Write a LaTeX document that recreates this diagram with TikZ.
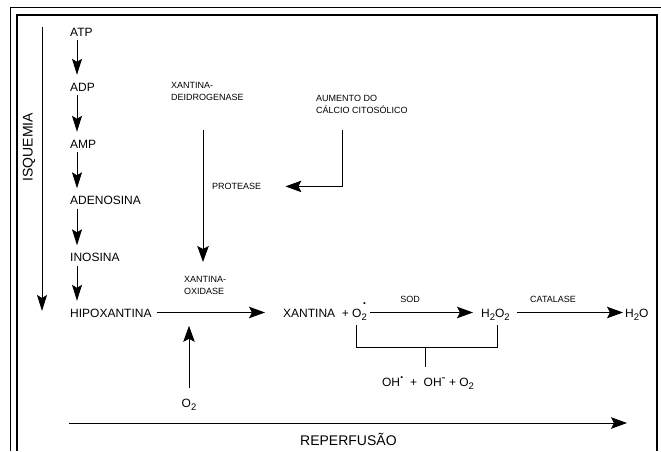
\documentclass[tikz,border=0pt]{standalone}
\usepackage{fontspec}
\setmainfont{Liberation Sans}
\usetikzlibrary{arrows.meta,calc}
\newcommand{\lowsub}[1]{\raisebox{-3.2pt}{\fontsize{9.5}{10}\selectfont #1}}
\begin{document}
\begin{tikzpicture}[x=1pt,y=-1pt,
  lbl/.style={font=\fontsize{12}{14}\selectfont, inner sep=2pt, anchor=west, text height=9pt, text depth=0pt},
  big/.style={font=\fontsize{14}{16}\selectfont, inner sep=0pt},
  sm/.style={font=\fontsize{9}{12}\selectfont, align=left, inner sep=0pt},
  arr/.style={-{Stealth[length=16pt,width=11.5pt,inset=3pt]}, line width=0.9pt},
  varr/.style={-{Stealth[length=16pt,width=10pt,inset=3pt]}, line width=0.9pt},
  ln/.style={line width=0.9pt},
  frameline/.style={line width=2.8pt},
  thinline/.style={line width=0.8pt}]
\useasboundingbox (0,0) rectangle (661,451);
% frame
\draw[thinline] (10,451) -- (10,7) -- (661,7);
\draw[frameline] (17,451) -- (17,15) -- (657,15) -- (657,451);

% isquemia
\node[big, rotate=90] (isq) at (29,147) {ISQUEMIA};
\coordinate (isqA) at (42,27);
\coordinate (isqB) at (42,311);
\draw[varr] (isqA) -- (isqB);

% left column
\node[lbl] (atp) at (68,31.5) {ATP};
\node[lbl] (adp) at (68,86.5) {ADP};
\node[lbl] (amp) at (68,143.5) {AMP};
\node[lbl] (aden) at (68,200) {ADENOSINA};
\node[lbl] (inos) at (68,257) {INOSINA};
\node[lbl] (hipo) at (68,312.5) {HIPOXANTINA};
\draw[varr] ($(atp.south west)+(9,2)$) -- ($(adp.north west)+(9,-5)$);
\draw[varr] ($(adp.south west)+(9,2)$) -- ($(amp.north west)+(9,-5)$);
\draw[varr] ($(amp.south west)+(9,2)$) -- ($(aden.north west)+(9,-5)$);
\draw[varr] ($(aden.south west)+(9,2)$) -- ($(inos.north west)+(9,-5)$);
\draw[varr] ($(inos.south west)+(9,2)$) -- ($(hipo.north west)+(9,-5)$);

% enzymes
\node[sm, anchor=base west] (xd) at (171,100) {XANTINA-\\DEIDROGENASE};
\node[sm, anchor=base west] (xo) at (184,294) {XANTINA-\\OXIDASE};
\node[sm, anchor=base west] (ca) at (316,113) {AUMENTO DO\\CÁLCIO CITOSÓLICO};
\node[sm, anchor=base west] (prot) at (212,189.5) {PROTEASE};
\draw[arr] ($(xd.base west)+(32,30)$) -- ($(xd.base west)+(32,162)$);
\draw[arr] ($(ca.base west)+(26,17)$) |- ($(prot.east)+(24,0)$);

% main row
\node[lbl] (xan) at (281,312.5) {XANTINA~~+};
\node[lbl, inner sep=0pt] (sox) at (352,312.5) {O\rlap{\raisebox{13pt}{\kern1.3pt\textbf{.}}}\lowsub{2}};
\node[lbl] (h2o2) at (479,312.5) {H\lowsub{2}O\lowsub{2}};
\node[lbl] (h2o) at (623,312.5) {H\lowsub{2}O};
\node[sm, anchor=base] (sod) at (410,302) {SOD};
\node[sm, anchor=base] (cat) at (553,302) {CATALASE};
\draw[arr] ($(hipo.east)+(3,0)$) -- ($(xan.west)+(-16,0)$);
\draw[arr] ($(sox.east)+(3,0)$) -- ($(h2o2.west)+(-6,0)$);
\draw[arr] ($(h2o2.east)+(5,0)$) -- (h2o.west);

% O2 input
\node[lbl, anchor=center] (o2) at (189,402.5) {O\lowsub{2}};
\draw[arr] ($(o2.north)+(0,-8)$) -- ($(o2.north)+(0,-70)$);

% bracket
\node[lbl, anchor=base] (prod) at (428,386) {OH\raisebox{7.5pt}{\textbf{.}}~~+~~OH\raisebox{5pt}{-}~+~O\lowsub{2}};
\draw[ln] ($(sox.south west)+(4,8)$) |- ($(h2o2.south)+(1.5,28)$) -- ($(h2o2.south)+(1.5,6)$);
\draw[ln] ($(prod.north)+(-3,-8)$) -- ($(prod.north)+(-3,-28)$);

% reperfusao
\coordinate (repA) at (69,423);
\coordinate (repB) at (627,423);
\draw[arr] (repA) -- (repB);
\node[big, anchor=base west] (rep) at (300,445) {REPERFUSÃO};
\end{tikzpicture}
\end{document}
